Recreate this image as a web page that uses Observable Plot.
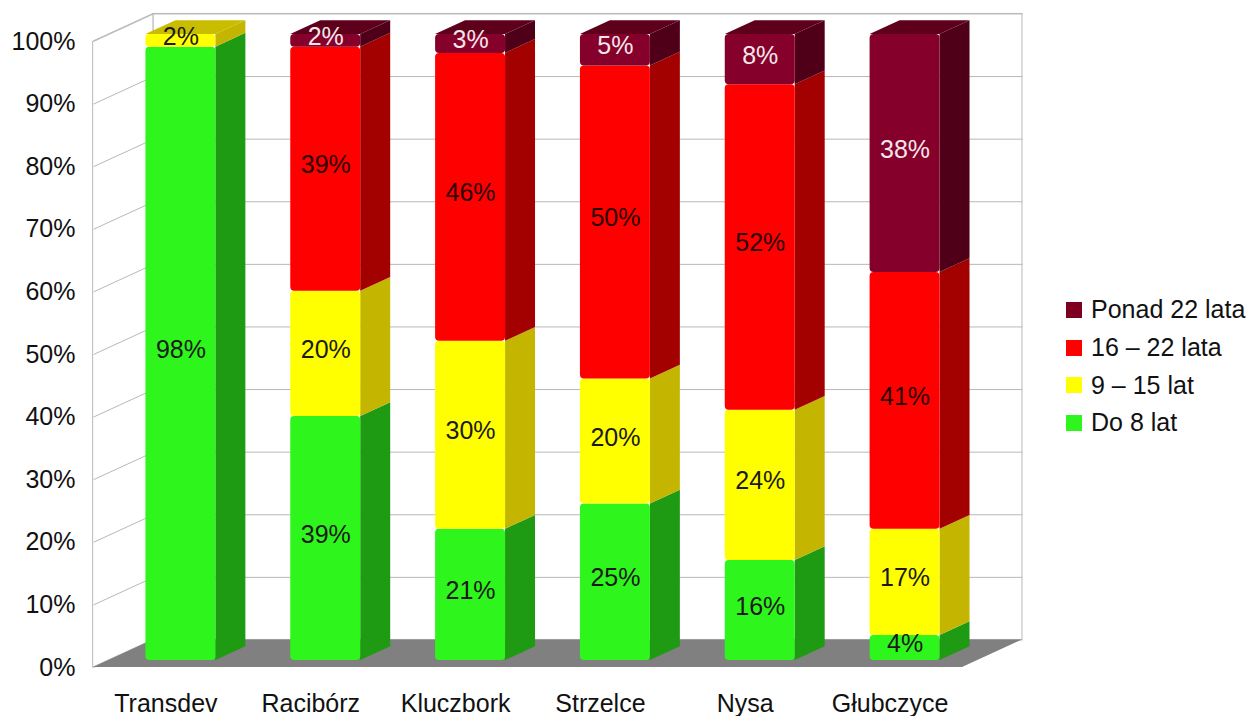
<!DOCTYPE html>
<html>
<head>
<meta charset="utf-8">
<script src="https://cdn.jsdelivr.net/npm/d3@7"></script>
<script src="https://cdn.jsdelivr.net/npm/@observablehq/plot@0.6"></script>
<style>
  html, body { margin: 0; padding: 0; background: #fff; }
  body { position: relative; width: 1252px; height: 716px; overflow: hidden; font-family: "Liberation Sans", Arial, sans-serif; }
  #chart { position: absolute; left: 0; top: 0; }
  #legend { position: absolute; left: 1066px; top: 291px; font-size: 25px; color: #111; }
  .item { display: flex; align-items: center; height: 37.7px; white-space: nowrap; }
  .sw { width: 16px; height: 16px; margin-right: 9px; flex: none; }
</style>
</head>
<body>
<div id="chart"></div>
<div id="legend"></div>
<script>
// ---- data ----
const categories = ["Transdev", "Racibórz", "Kluczbork", "Strzelce", "Nysa", "Głubczyce"];
const seriesNames = ["Do 8 lat", "9 – 15 lat", "16 – 22 lata", "Ponad 22 lata"];
const do8lat   = [98, 39, 21, 25, 16, 4];
const lat9_15  = [2, 20, 30, 20, 24, 17];
const lat16_22 = [0, 39, 46, 50, 52, 41];
const ponad22  = [0, 2, 3, 5, 8, 38];
const yTicks = [0, 10, 20, 30, 40, 50, 60, 70, 80, 90, 100];

// ---- styles ----
const palette = [
  {front: "#2ef51c", side: "#1f9a13", top: "#26c417", legend: "#2ef51c", text: "#1a1a1a"},
  {front: "#ffff00", side: "#c4b600", top: "#c9bd00", legend: "#ffff00", text: "#1a1a1a"},
  {front: "#ff0000", side: "#a30000", top: "#c40000", legend: "#ff0000", text: "#2a0000"},
  {front: "#85002a", side: "#4f0018", top: "#5e001c", legend: "#7e0021", text: "#f4e6ea"}
];
const seriesValues = [do8lat, lat9_15, lat16_22, ponad22];
const DX = 0.414, DY = 4.4;   // 3D depth vector (data units)
const BW = 0.483;             // bar width (category units)
const nCat = categories.length, yMax = 100;

// build segments
const segs = [];
categories.forEach((c, i) => {
  let y0 = 0;
  seriesValues.forEach((vals, k) => {
    const v = vals[i];
    if (v > 0) segs.push({i, k, y0, y1: y0 + v, v, key: i + "-" + k});
    y0 += v;
  });
});
const tops = categories.map((c, i) => segs.filter(s => s.i === i).slice(-1)[0]);

const xl = s => s.i + 0.5 - BW / 2 + DX / 4;
const xr = s => s.i + 0.5 + BW / 2 + DX / 4;

const sidePts = segs.flatMap(s => [
  {key: s.key, x: xr(s), ya: s.y0 + DY / 4, yb: s.y1 + DY / 4, fill: palette[s.k].side},
  {key: s.key, x: xr(s) + DX / 2, ya: s.y0 + DY * 3 / 4, yb: s.y1 + DY * 3 / 4, fill: palette[s.k].side}
]);
const topPts = tops.flatMap(s => [
  {key: s.key, y: s.y1 + DY / 4, xa: xl(s), xb: xr(s), fill: palette[s.k].top},
  {key: s.key, y: s.y1 + DY * 3 / 4, xa: xl(s) + DX / 2, xb: xr(s) + DX / 2, fill: palette[s.k].top}
]);

const W = 1040, H = 716;
const grid = "#b8b8b8";

const chart = Plot.plot({
  width: W, height: H,
  marginLeft: 93, marginRight: W - 962, marginTop: 41, marginBottom: H - 667,
  x: {domain: [0, nCat], axis: null},
  y: {domain: [0, yMax], axis: null},
  color: {type: "identity"},
  style: {fontFamily: "Liberation Sans, Arial, sans-serif", fontSize: "25px", background: "white", overflow: "visible"},
  marks: [
    // back wall
    Plot.rect([0], {x1: () => DX, x2: () => nCat + DX, y1: () => DY, y2: () => yMax + DY, fill: "white", stroke: grid}),
    // left wall
    Plot.areaY([{x: 0, a: 0, b: yMax}, {x: DX, a: DY, b: yMax + DY}], {x: "x", y1: "a", y2: "b", fill: "white", stroke: grid}),
    // gridlines
    Plot.link(yTicks, {x1: () => 0, y1: t => t, x2: () => DX, y2: t => t + DY, stroke: grid}),
    Plot.link(yTicks, {x1: () => DX, y1: t => t + DY, x2: () => nCat + DX, y2: t => t + DY, stroke: grid}),
    // floor
    Plot.areaX([{y: 0, a: 0, b: nCat}, {y: DY, a: DX, b: nCat + DX}], {y: "y", x1: "a", x2: "b", fill: "#808080"}),
    // bars: side, top, front
    Plot.areaY(sidePts, {x: "x", y1: "ya", y2: "yb", z: "key", fill: "fill"}),
    Plot.areaX(topPts, {y: "y", x1: "xa", x2: "xb", z: "key", fill: "fill"}),
    Plot.rect(segs, {x1: xl, x2: xr, y1: s => s.y0 + DY / 4, y2: s => s.y1 + DY / 4, fill: s => palette[s.k].front, rx: 4}),
    // value labels
    Plot.text(segs, {x: s => s.i + 0.5 + DX / 4, y: s => (s.y0 + s.y1) / 2 + DY / 4, text: s => s.v + "%", fill: s => palette[s.k].text, fontSize: 25, dy: -4}),
    // axes
    Plot.axisY(yTicks, {tickFormat: d => d + "%", tickSize: 0, tickPadding: 18, fontSize: 25, label: null, fill: "#111"}),
    Plot.axisX(categories.map((c, i) => i + 0.5), {tickFormat: d => categories[Math.floor(d)], tickSize: 0, tickPadding: 27, fontSize: 25, label: null, fill: "#111"})
  ]
});
document.getElementById("chart").appendChild(chart);

// legend (reverse stacking order)
const legend = document.getElementById("legend");
for (let k = seriesNames.length - 1; k >= 0; k--) {
  const it = document.createElement("div");
  it.className = "item";
  const sw = document.createElement("span");
  sw.className = "sw";
  sw.style.background = palette[k].legend;
  const tx = document.createElement("span");
  tx.textContent = seriesNames[k];
  it.appendChild(sw); it.appendChild(tx);
  legend.appendChild(it);
}
</script>
</body>
</html>
